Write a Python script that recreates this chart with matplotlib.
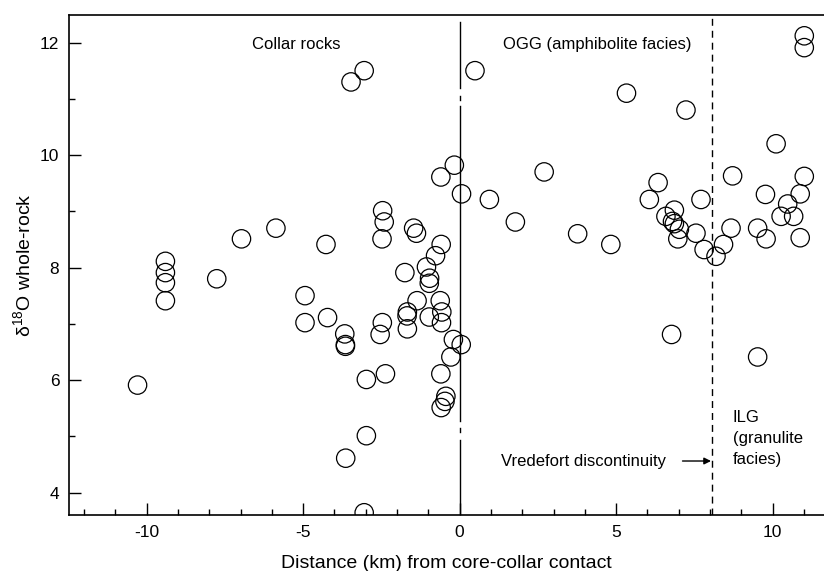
import numpy as np
import matplotlib
matplotlib.use('Agg')
import matplotlib.pyplot as plt
from matplotlib.ticker import MultipleLocator

plt.rcParams['font.family'] = ['Liberation Sans', 'DejaVu Sans']
plt.rcParams['mathtext.fontset'] = 'custom'
plt.rcParams['mathtext.rm'] = 'Liberation Sans'
plt.rcParams['mathtext.it'] = 'Liberation Sans:italic'
plt.rcParams['axes.unicode_minus'] = False

# distance (km) from core-collar contact, and d18O whole-rock
dist = [-10.29, -9.40, -9.40, -9.40, -9.40, -7.76, -6.97, -5.87, -4.94, -4.94,
        -4.22, -4.27, -3.47, -3.05, -3.67, -3.65, -3.65, -3.64, -2.98, -2.98,
        -3.05, -2.37, -2.46, -2.41, -2.48, -2.47, -2.54, -1.47, -1.38, -1.75,
        -1.67, -1.68, -1.67, -1.36, -1.06, -0.96, -0.97, -0.97, -0.77, -0.59,
        -0.62, -0.57, -0.58, -0.20, 0.05, -0.28, -0.60, -0.44, -0.47, -0.59,
        -0.17, -0.60, 0.06, 0.49, 0.95, 1.78, 2.70, 3.77, 4.83, 5.33,
        7.23, 6.06, 6.34, 7.71, 6.59, 6.86, 6.80, 6.86, 7.02, 6.97,
        7.55, 7.81, 8.19, 8.43, 8.67, 8.72, 10.11, 9.52, 9.77, 9.79,
        10.48, 10.27, 10.67, 10.88, 11.01, 10.88, 11.01, 11.01, 6.77, 9.52]
d18o = [5.91, 8.11, 7.91, 7.73, 7.41, 7.80, 8.51, 8.70, 7.50, 7.02,
        7.11, 8.41, 11.30, 11.50, 6.82, 6.63, 6.60, 4.61, 6.01, 5.01,
        3.64, 6.11, 9.01, 8.81, 8.51, 7.02, 6.81, 8.70, 8.61, 7.91,
        7.21, 7.14, 6.91, 7.41, 8.01, 7.81, 7.72, 7.12, 8.21, 8.41,
        7.41, 7.21, 7.02, 6.72, 6.63, 6.41, 6.11, 5.71, 5.62, 5.51,
        9.82, 9.61, 9.31, 11.50, 9.21, 8.81, 9.70, 8.60, 8.41, 11.10,
        10.80, 9.21, 9.51, 9.21, 8.91, 9.02, 8.82, 8.78, 8.68, 8.51,
        8.61, 8.32, 8.20, 8.41, 8.70, 9.63, 10.20, 8.70, 9.30, 8.51,
        9.13, 8.91, 8.91, 9.31, 9.62, 8.53, 12.12, 11.91, 6.81, 6.41]

contact_x = 0.0
discontinuity_x = 8.05

fig = plt.figure(figsize=(8.24, 5.71), dpi=100)
ax = fig.add_axes([69/824, 1 - 515/571, (824 - 69)/824, (515 - 15)/571])

ax.scatter(dist, d18o, s=175, facecolors='none', edgecolors='black',
           linewidths=0.9, zorder=3)

# core-collar contact (solid, with small breaks)
for y0, y1 in [(12.37, 11.2), (11.05, 10.98), (10.88, 5.28), (5.15, 5.08), (4.93, 3.6)]:
    ax.plot([contact_x, contact_x], [y0, y1], color='black', lw=1.0, zorder=2)

# Vredefort discontinuity
ax.axvline(discontinuity_x, color='black', lw=1.0, dashes=(5, 3.6), zorder=2)

ax.text(-5.23, 11.96, 'Collar rocks', ha='center', va='center', fontsize=12)
ax.text(4.39, 11.96, 'OGG (amphibolite facies)', ha='center', va='center', fontsize=12)
ax.text(3.97, 4.56, 'Vredefort discontinuity', ha='center', va='center', fontsize=12)
ax.text(8.72, 4.96, 'ILG\n(granulite\nfacies)', ha='left', va='center', fontsize=12,
        linespacing=1.5)
ax.annotate('', xy=(8.03, 4.56), xytext=(7.12, 4.56),
            arrowprops=dict(arrowstyle='-|>', color='black', lw=1.0,
                            mutation_scale=10, shrinkA=0, shrinkB=0))

ax.set_xlim(-12.48, 11.64)
ax.set_ylim(3.6, 12.49)
ax.xaxis.set_major_locator(MultipleLocator(5))
ax.xaxis.set_minor_locator(MultipleLocator(1))
ax.yaxis.set_major_locator(MultipleLocator(2))
ax.yaxis.set_minor_locator(MultipleLocator(1))
ax.tick_params(which='both', direction='in', top=False, right=False,
               labelsize=12.5, width=1.0)
ax.tick_params(which='major', length=8.5, pad=7)
ax.tick_params(which='minor', length=4.5)
ax.spines['right'].set_visible(False)
for s in ['left', 'top', 'bottom']:
    ax.spines[s].set_linewidth(1.2)

ax.set_xlabel('Distance (km) from core-collar contact', fontsize=14, labelpad=11)
ax.set_ylabel('δ$^{18}$O whole-rock', fontsize=14, labelpad=4)

fig.savefig('out.png', dpi=100)
